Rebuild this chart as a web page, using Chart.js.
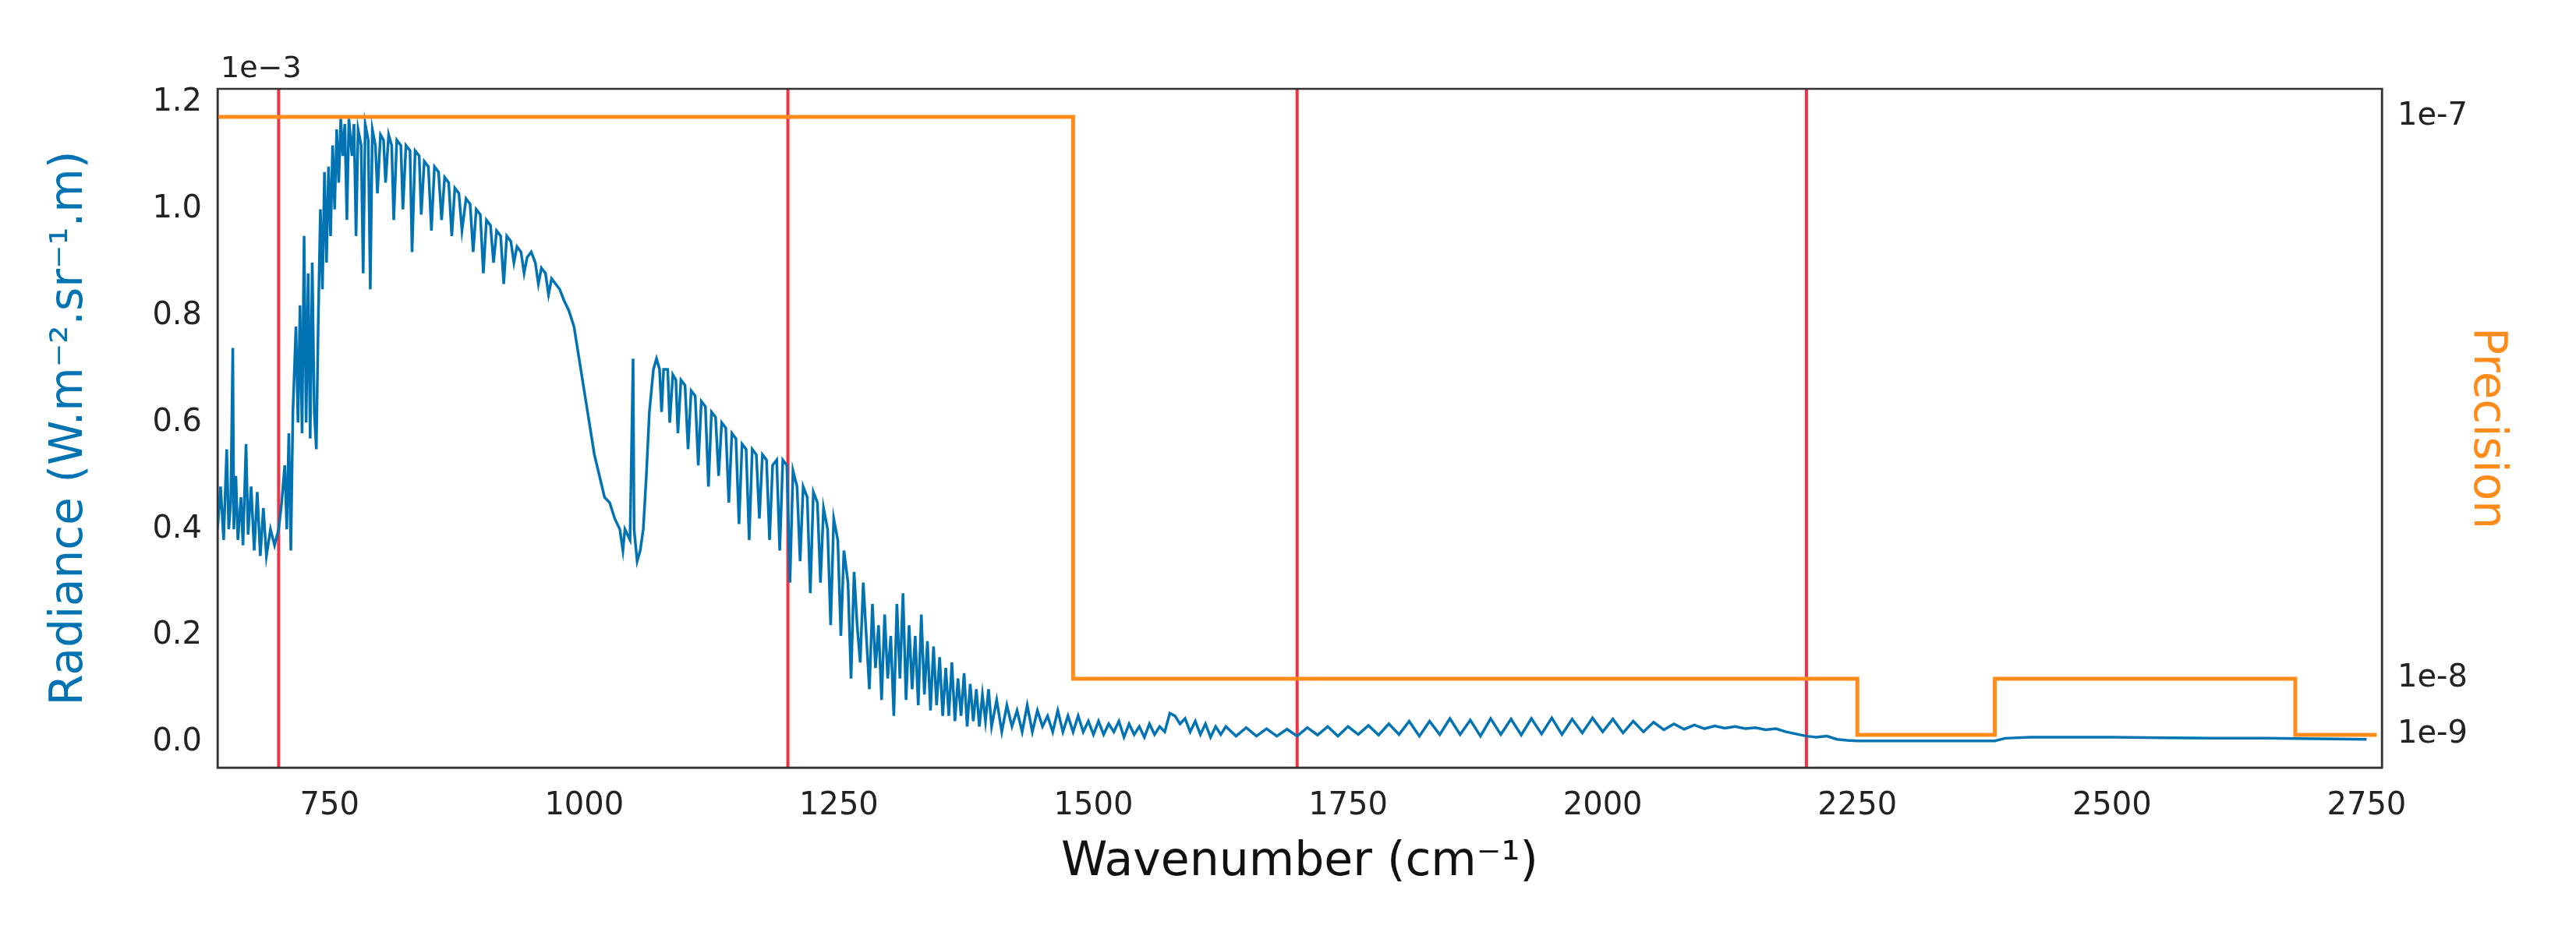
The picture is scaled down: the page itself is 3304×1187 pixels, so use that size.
<!DOCTYPE html>
<html>
<head>
<meta charset="utf-8">
<script src="https://cdn.jsdelivr.net/npm/chart.js@4"></script>
<style>
  html, body { margin: 0; padding: 0; background: #fff; }
  #wrap { width: 3304px; height: 1187px; }
</style>
</head>
<body>
<div id="wrap"><canvas id="chart"></canvas></div>
<script>
// radiance in units of 1e-3 W.m-2.sr-1.m, pairs of [wavenumber, value]
const radianceLow = [
  [640,.40],[643,.48],[646,.38],[649,.55],[651,.40],[653,.45],[655,.74],[656,.40],[658,.50],[660,.38],
  [663,.46],[665,.37],[668,.56],[670,.39],[673,.48],[676,.36],[679,.47],[682,.35],[685,.44],[688,.35],
  [692,.40],[696,.37],[700,.40],[703,.45],[706,.52],[708,.40],[710,.58],[712,.36],[714,.62],[717,.78],
  [719,.60],[721,.82],[723,.58],[725,.95],[727,.60],[729,.88],[731,.57],[733,.90],[735,.62],[737,.55],
  [739,.80],[741,1.00],[743,.85],[745,1.07],[747,.90],[749,1.08],[751,.95],[753,1.12],[755,1.0],[757,1.15],
  [759,1.05],[761,1.17],[763,1.10],[765,1.16],[767,.98],[769,1.17],[772,1.10],[774,1.16],[776,.95],[778,1.15],
  [781,1.12],[783,.88],[785,1.16],[788,1.13],[790,.85],[792,1.15],[795,1.12],[797,1.03],[800,1.14],[803,1.13],
  [805,1.05],[808,1.14],[811,1.12],[813,.98],[816,1.13],[820,1.12],[822,1.00],[825,1.12],[829,1.11],[831,.92],
  [834,1.11],[838,1.10],[840,.99],[843,1.09],[847,1.08],[850,.96],[853,1.08],[857,1.07],[860,.98],[863,1.06],
  [867,1.05],[870,.95],[873,1.04],[877,1.03],[880,.96],[884,1.02],[888,1.01],[891,.92],[894,1.0],[898,.99],
  [901,.88],[904,.98],[908,.97],[911,.90],[914,.96],[918,.95],[921,.86],[924,.95],[928,.94],[931,.90],
  [934,.93],[938,.92],[941,.88],[944,.91],[948,.92],[952,.90],[955,.86],[958,.89],[962,.88],[965,.84],
  [968,.87],[972,.86],[976,.85],[980,.83],[985,.81],[990,.78],[995,.72],[1000,.66],[1005,.60],[1010,.54],
  [1015,.50],[1020,.46],[1025,.45],[1030,.42],[1035,.40],[1038,.36],[1040,.40],[1045,.38],[1048,.72],[1049,.40],
  [1052,.34],[1055,.36],[1058,.40],[1061,.50],[1064,.62],[1068,.70],[1071,.72],[1074,.70],[1076,.62],[1078,.70]
];
const radianceMid = [
  [1082,.70],[1084,.60],[1087,.69],[1090,.68],[1092,.58],[1095,.68],[1099,.67],[1102,.55],[1105,.66],[1109,.65],
  [1112,.52],[1115,.64],[1119,.63],[1122,.48],[1125,.62],[1129,.61],[1132,.50],[1135,.60],[1139,.59],[1142,.45],
  [1145,.58],[1149,.57],[1152,.41],[1155,.56],[1159,.55],[1162,.38],[1165,.55],[1169,.54],[1172,.42],[1175,.54],
  [1179,.53],[1182,.38],[1185,.52],[1189,.53],[1192,.36],[1195,.53],[1199,.52],[1202,.30],[1205,.51],[1209,.48],
  [1212,.34],[1215,.48],[1219,.46],[1222,.28],[1225,.47],[1229,.45],[1232,.30],[1235,.44],[1239,.40],[1242,.22],
  [1245,.42],[1249,.38],[1252,.20],[1255,.36],[1259,.30],[1262,.12],[1265,.32],[1268,.22],[1271,.15],[1274,.30],
  [1277,.20],[1280,.10],[1283,.26],[1286,.14],[1289,.22],[1292,.08],[1295,.24],[1298,.12],[1301,.20],[1304,.05],
  [1307,.26],[1310,.12],[1313,.28],[1316,.08],[1319,.22],[1322,.10],[1325,.20],[1328,.07],[1331,.24],[1334,.09],
  [1337,.19],[1340,.06],[1343,.18],[1346,.07],[1349,.16],[1352,.05],[1355,.14],[1358,.05],[1361,.15],[1364,.04],
  [1367,.12],[1370,.05],[1373,.13],[1376,.03],[1379,.11],[1382,.04],[1385,.10],[1388,.03],[1391,.09],[1394,.04],
  [1397,.10],[1400,.03],[1405,.08],[1410,.02],[1415,.07],[1420,.03],[1425,.06],[1430,.02],[1435,.07],[1440,.02],
  [1445,.06],[1450,.03],[1455,.05],[1460,.02],[1465,.06],[1470,.02],[1475,.05],[1480,.02],[1485,.05],[1490,.02]
];
const radianceHigh = [
  [1495,.04],[1500,.015],[1505,.04],[1510,.015],[1515,.035],[1520,.02],[1525,.04],[1530,.01],[1535,.035],[1540,.015],
  [1545,.03],[1550,.01],[1555,.035],[1560,.015],[1565,.03],[1570,.02],[1575,.055],[1580,.05],[1585,.035],[1590,.045],
  [1595,.02],[1600,.04],[1605,.015],[1610,.035],[1615,.01],[1620,.03],[1625,.015],[1630,.03],[1640,.012],[1650,.028],
  [1660,.012],[1670,.026],[1680,.012],[1690,.025],[1700,.012],[1710,.028],[1720,.014],[1730,.03],[1740,.012],[1750,.03],
  [1760,.015],[1770,.032],[1780,.014],[1790,.035],[1800,.015],[1810,.04],[1820,.012],[1830,.04],[1840,.015],[1850,.045],
  [1860,.015],[1870,.042],[1880,.012],[1890,.045],[1900,.015],[1910,.044],[1920,.014],[1930,.045],[1940,.016],[1950,.046],
  [1960,.015],[1970,.044],[1980,.018],[1990,.046],[2000,.02],[2010,.044],[2020,.018],[2030,.04],[2040,.02],[2050,.038],
  [2060,.024],[2070,.035],[2080,.025],[2090,.033],[2100,.026],[2110,.031],[2120,.027],[2130,.03],[2140,.026],[2150,.028],
  [2160,.024],[2170,.026],[2180,.02],[2190,.016],[2200,.012],[2210,.01],[2220,.012],[2230,.006],[2240,.004],[2250,.003],
  [2300,.003],[2350,.003],[2385,.003],[2395,.008],[2420,.01],[2450,.01],[2500,.01],[2550,.009],[2600,.008],[2650,.008],
  [2700,.007],[2750,.006]
];
// precision in units of 1e-9 (step edges)
const precisionX = [640, 1480, 2250, 2385, 2680, 2760];
const precisionY = [100, 10, 1, 10, 1, 1];
const markerLines = [700, 1200, 1700, 2200];
const xTicks = [750, 1000, 1250, 1500, 1750, 2000, 2250, 2500, 2750];
const leftTicks = [0, 0.2, 0.4, 0.6, 0.8, 1.0, 1.2];
const rightTicks = [1, 10, 100];
const rightLabels = ['1e-9', '1e-8', '1e-7'];

const BLUE = '#0173b2';
const ORANGE = '#ff8c1a';
const RED = '#ee3344';
const FONT = 'DejaVu Sans';

const toPts = (arr) => arr.map((p) => ({ x: p[0], y: p[1] }));
const spectrum = toPts(radianceLow.concat(radianceMid, radianceHigh));
const precision = precisionX.map((x, i) => ({ x: x, y: precisionY[i] }));

const datasets = [];
markerLines.forEach((x) => {
  datasets.push({
    data: [{ x: x, y: -1 }, { x: x, y: 2 }],
    borderColor: RED, borderWidth: 4, pointRadius: 0, yAxisID: 'y', order: 3,
  });
});
datasets.push({
  data: spectrum, borderColor: BLUE, borderWidth: 3.5, pointRadius: 0, yAxisID: 'y', order: 2,
});
datasets.push({
  data: precision, borderColor: ORANGE, borderWidth: 5, pointRadius: 0, stepped: 'before',
  yAxisID: 'y2', order: 1,
});

const frame = {
  id: 'frame',
  afterDraw: (chart) => {
    const { ctx, chartArea: a } = chart;
    ctx.save();
    ctx.strokeStyle = '#333';
    ctx.lineWidth = 2.5;
    ctx.strokeRect(a.left, a.top, a.right - a.left, a.bottom - a.top);
    ctx.fillStyle = '#222';
    ctx.font = '38px "' + FONT + '"';
    ctx.textBaseline = 'bottom';
    ctx.fillText('1e\u22123', a.left + 4, a.top - 6);
    ctx.restore();
  },
};

const tickFont = { family: FONT, size: 40 };

new Chart('chart', {
  type: 'line',
  data: { datasets: datasets },
  options: {
    responsive: true,
    maintainAspectRatio: false,
    animation: false,
    layout: { padding: { top: 114, right: 0, left: 0, bottom: 0 } },
    plugins: { legend: { display: false }, tooltip: { enabled: false } },
    scales: {
      x: {
        type: 'linear', min: 640, max: 2765,
        grid: { display: false, drawTicks: true, tickLength: 12, tickColor: '#333', tickWidth: 2.5 },
        border: { display: true, color: '#333', width: 2.5 },
        afterBuildTicks: (s) => { s.ticks = xTicks.map((v) => ({ value: v })); },
        afterFit: (s) => { s.height = 1187 - 985; },
        ticks: { color: '#222', font: tickFont, maxRotation: 0, padding: 14, callback: (v) => String(v) },
        title: { display: true, text: 'Wavenumber (cm\u207B\u00B9)', color: '#111',
          font: { family: FONT, size: 60 }, padding: { top: 44, bottom: 44 } },
      },
      y: {
        position: 'left', min: -0.047, max: 1.226,
        grid: { display: false, tickLength: 12, tickColor: '#333', tickWidth: 2.5 },
        border: { display: true, color: '#333', width: 2.5 },
        afterBuildTicks: (s) => { s.ticks = leftTicks.map((v) => ({ value: v })); },
        afterFit: (s) => { s.width = 279; },
        ticks: { color: '#222', font: tickFont, padding: 8, callback: (v) => v.toFixed(1) },
        title: { display: true, text: 'Radiance (W.m\u207B\u00B2.sr\u207B\u00B9.m)', color: BLUE,
          font: { family: FONT, size: 58 }, padding: { top: 55, bottom: 55 } },
      },
      y2: {
        position: 'right', min: -4.24, max: 104.5,
        grid: { display: false, tickLength: 12, tickColor: '#333', tickWidth: 2.5 },
        border: { display: true, color: '#333', width: 2.5 },
        afterBuildTicks: (s) => { s.ticks = rightTicks.map((v) => ({ value: v })); },
        afterFit: (s) => { s.width = 3304 - 3055; },
        ticks: { color: '#222', font: tickFont, padding: 8,
          callback: (v) => rightLabels[rightTicks.indexOf(v)] },
        title: { display: true, text: 'Precision', color: ORANGE,
          font: { family: FONT, size: 58 }, padding: { top: 80, bottom: 80 } },
      },
    },
  },
  plugins: [frame],
});
</script>
</body>
</html>
